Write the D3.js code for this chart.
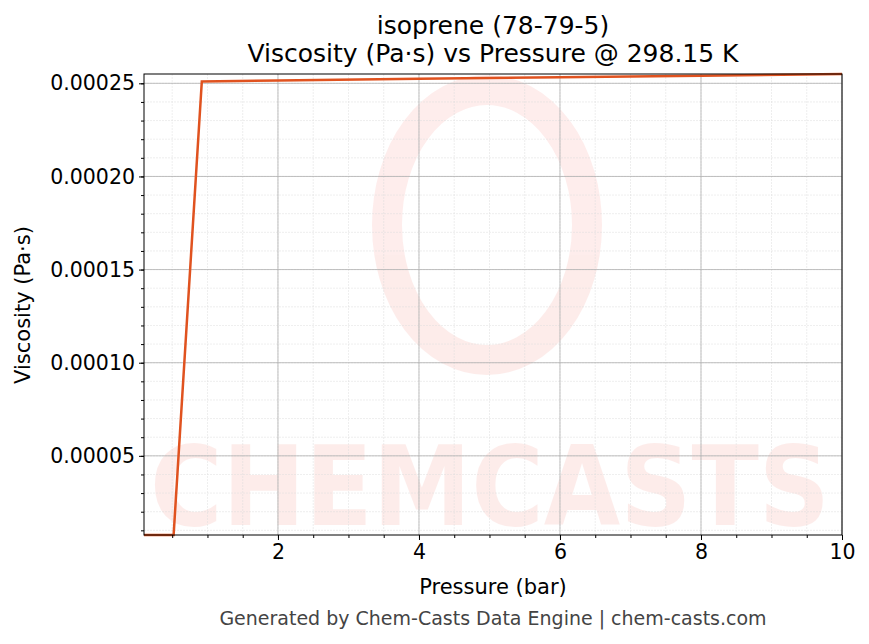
<!DOCTYPE html>
<html><head><meta charset="utf-8">
<script src="https://cdn.jsdelivr.net/npm/d3@7"></script>
<style>body{margin:0;background:#fff}svg text{font-family:"DejaVu Sans",sans-serif}</style>
</head><body><svg id="c" width="869" height="644"></svg>
<script>
// data
const pressure = [0.1, 0.52, 0.92, 2, 4, 6, 8, 10];
const viscosity = [0.0000075, 0.0000075, 0.000251, 0.0002515, 0.0002525, 0.0002533, 0.0002541, 0.000255];
const xTicks = [2, 4, 6, 8, 10];
const yTicks = [0.00005, 0.0001, 0.00015, 0.0002, 0.00025];

const svg = d3.select("#c");
const m = {l: 144, r: 842, t: 74, b: 535};
const x = d3.scaleLinear().domain([0.1, 10]).range([m.l, m.r]);
const y = d3.scaleLinear().domain([0.0000075, 0.000255]).range([m.b, m.t]);

// watermark
const wm = svg.append("g").attr("opacity", 0.09);
wm.append("ellipse").attr("cx", 487).attr("cy", 225).attr("rx", 100).attr("ry", 135)
  .attr("fill", "none").attr("stroke", "#f03c28").attr("stroke-width", 30);
wm.append("text").attr("x", 490).attr("y", 525).attr("text-anchor", "middle")
  .style("font-size", "110px").attr("font-weight", "bold").attr("fill", "#f03c28")
  .attr("textLength", 680).attr("lengthAdjust", "spacingAndGlyphs").text("CHEMCASTS");

// minor grid
const xMinor = d3.range(0.5, 10.01, 0.5);
const yMinor = d3.range(0.00001, 0.000255, 0.00001);
svg.append("g").selectAll("line").data(xMinor).join("line")
  .attr("x1", d => x(d)).attr("x2", d => x(d)).attr("y1", m.t).attr("y2", m.b)
  .attr("stroke", "#ddd").attr("stroke-width", 0.5).attr("stroke-dasharray", "2,1");
svg.append("g").selectAll("line").data(yMinor).join("line")
  .attr("y1", d => y(d)).attr("y2", d => y(d)).attr("x1", m.l).attr("x2", m.r)
  .attr("stroke", "#ddd").attr("stroke-width", 0.5).attr("stroke-dasharray", "2,1");
// major grid
svg.append("g").selectAll("line").data(xTicks).join("line")
  .attr("x1", d => x(d)).attr("x2", d => x(d)).attr("y1", m.t).attr("y2", m.b)
  .attr("stroke", "#b0b0b0").attr("stroke-width", 0.8);
svg.append("g").selectAll("line").data(yTicks).join("line")
  .attr("y1", d => y(d)).attr("y2", d => y(d)).attr("x1", m.l).attr("x2", m.r)
  .attr("stroke", "#b0b0b0").attr("stroke-width", 0.8);

// line
svg.append("path").datum(pressure.map((p, i) => [p, viscosity[i]]))
  .attr("d", d3.line().x(d => x(d[0])).y(d => y(d[1])))
  .attr("fill", "none").attr("stroke", "#e0521f").attr("stroke-width", 2.5);

// axes
svg.append("g").attr("transform", `translate(0,${m.b})`)
  .call(d3.axisBottom(x).tickValues(xMinor).tickSize(3).tickFormat(""))
  .selectAll("text").remove();
svg.append("g").attr("transform", `translate(${m.l},0)`)
  .call(d3.axisLeft(y).tickValues(yMinor).tickSize(3).tickFormat(""))
  .selectAll("text").remove();
svg.append("g").attr("transform", `translate(0,${m.b})`)
  .call(d3.axisBottom(x).tickValues(xTicks).tickSize(5).tickPadding(4).tickFormat(d3.format("d")));
svg.append("g").attr("transform", `translate(${m.l},0)`)
  .call(d3.axisLeft(y).tickValues(yTicks).tickSize(5).tickPadding(4).tickFormat(d3.format(".5f")));
svg.selectAll(".domain").remove();
svg.selectAll(".tick text").style("font-size", "20.5px").attr("fill", "#000");
svg.selectAll(".tick line").attr("stroke", "#000");
svg.append("rect").attr("x", m.l).attr("y", m.t).attr("width", m.r - m.l).attr("height", m.b - m.t)
  .attr("fill", "none").attr("stroke", "#000").attr("stroke-width", 1);

// labels
const lab = (xx, yy, s, t) => svg.append("text").attr("x", xx).attr("y", yy).attr("text-anchor", "middle").style("font-size", s + "px").text(t);
lab(493, 34, 25, "isoprene (78-79-5)");
lab(493, 62, 25, "Viscosity (Pa·s) vs Pressure @ 298.15 K");
lab(493, 594, 21, "Pressure (bar)");
svg.append("text").attr("transform", "translate(30,305) rotate(-90)").attr("text-anchor", "middle").style("font-size", "21px").text("Viscosity (Pa·s)");
lab(493, 625, 19, "Generated by Chem-Casts Data Engine | chem-casts.com").attr("fill", "#444");
</script></body></html>
